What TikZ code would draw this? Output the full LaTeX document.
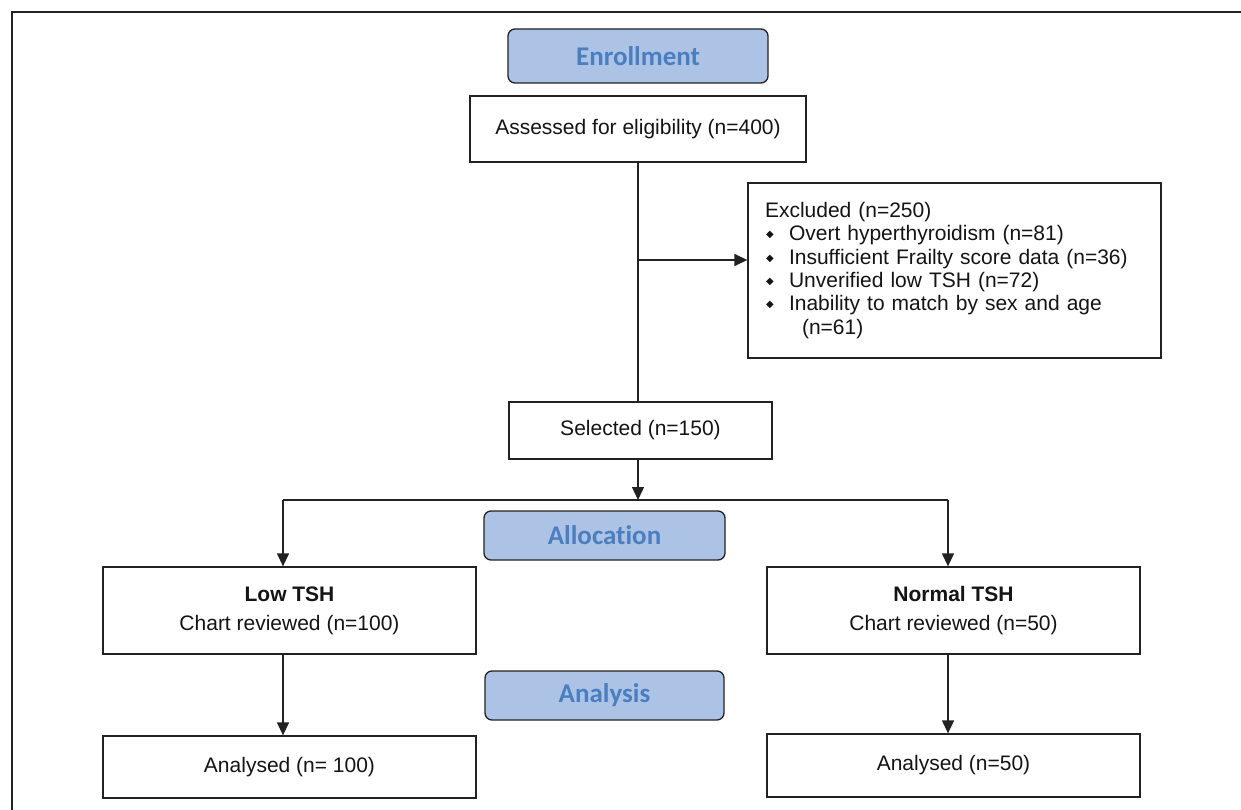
\documentclass[tikz,border=0pt]{standalone}
\usepackage{fontspec}
\setmainfont{Liberation Sans}
\newfontfamily\hdfont{Carlito}[RawFeature=-liga]
\newfontfamily\symfont{DejaVu Sans}
\usetikzlibrary{arrows.meta}
\definecolor{hdfill}{HTML}{ADC3E6}
\definecolor{hdtext}{HTML}{4A7EC0}
\definecolor{ln}{HTML}{222222}
\newcommand{\bul}{\makebox[24pt][l]{\hspace*{1pt}\raisebox{3pt}{\symfont\fontsize{10}{10}\selectfont ◆}}}
\begin{document}
\begin{tikzpicture}[x=1pt,y=-1pt,
  box/.style={draw=ln,line width=1.3pt,fill=white,inner sep=0pt,align=center,font=\fontsize{21}{29}\selectfont,text=black!92},
  hd/.style={draw=ln,line width=1.3pt,fill=hdfill,rounded corners=7pt,inner sep=0pt,font=\hdfont\bfseries\fontsize{27}{30}\selectfont,text=hdtext},
  conn/.style={draw=ln,line width=1.3pt},
  arr/.style={conn,-{Triangle[length=13pt,width=12pt]}}]
\useasboundingbox (0,0) rectangle (1241,810);
\draw[line width=1.5pt,draw=ln] (12,810) -- (12,12) -- (1241,12);

\node[hd,minimum width=260,minimum height=54] (enr) at (638,56) {Enrollment};
\node[box,minimum width=336,minimum height=66] (ass) at (638,129) {Assessed for eligibility (n=400)};
\node[box,minimum width=413,minimum height=175,text width=379,align=left,font=\fontsize{21}{23.3}\selectfont] (exc) at (954.5,270.5) {\raisebox{3pt}{Excluded (n=250)}\\[-3pt]
\bul Overt hyperthyroidism (n=81)\\
\bul Insufficient Frailty score data (n=36)\\
\bul Unverified low TSH (n=72)\\
\bul Inability to match by sex and age\\
\hspace*{37pt}(n=61)\\[3pt]};
\node[box,minimum width=263,minimum height=57] (sel) at (640.5,430.5) {Selected (n=150)};
\node[hd,minimum width=241,minimum height=49] (alloc) at (604.5,535.5) {Allocation};
\node[box,minimum width=373,minimum height=87] (low) at (289.5,610.5) {\textbf{Low TSH}\\Chart reviewed (n=100)};
\node[box,minimum width=373,minimum height=87] (norm) at (953.5,610.5) {\textbf{Normal TSH}\\Chart reviewed (n=50)};
\node[hd,minimum width=239,minimum height=49] (ana) at (604.5,695.5) {Analysis};
\node[box,minimum width=373,minimum height=62] (al) at (289.5,767) {Analysed (n= 100)};
\node[box,minimum width=373,minimum height=63] (ar) at (953.5,765.5) {Analysed (n=50)};

\coordinate (br) at (638,260);
\coordinate (split) at (638,500);
\coordinate (sl) at (283,500);
\coordinate (sr) at (948,500);

\draw[conn] (ass.south) -- (ass.south |- sel.north);
\draw[arr] (br) -- (br -| exc.west);
\draw[arr] (ass.south |- sel.south) -- (split);
\draw[conn] (sl) -- (sr);
\draw[arr] (sl) -- (sl |- low.north);
\draw[arr] (sr) -- (sr |- norm.north);
\draw[arr] (sl |- low.south) -- (sl |- al.north);
\draw[arr] (sr |- norm.south) -- (sr |- ar.north);
\end{tikzpicture}
\end{document}
